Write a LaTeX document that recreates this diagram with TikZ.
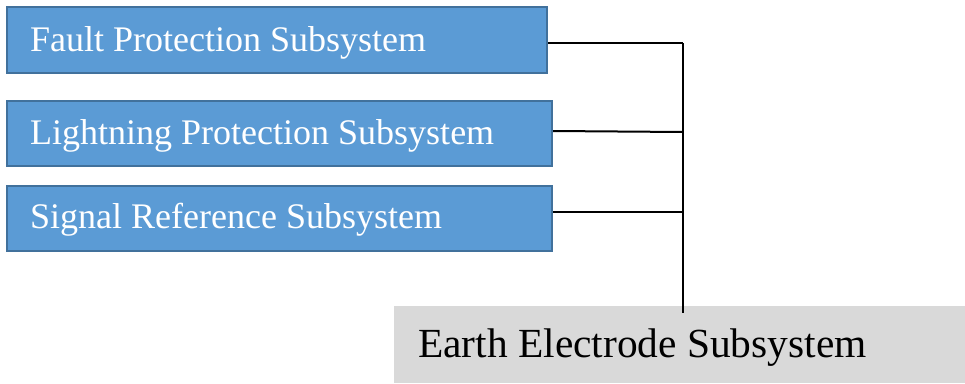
\documentclass[tikz,border=0pt]{standalone}
\usepackage{fontspec}
\setmainfont{Liberation Serif}
\definecolor{boxblue}{HTML}{5B9BD5}
\definecolor{boxedge}{HTML}{41719C}
\definecolor{earthgrey}{HTML}{D9D9D9}
\begin{document}
\begin{tikzpicture}[x=1pt,y=-1pt,
  bluebox/.style={draw=boxedge, line width=2pt, fill=boxblue, rectangle, inner sep=0pt},
  greybox/.style={fill=earthgrey, draw=none, rectangle, inner sep=0pt},
  bluetext/.style={anchor=base west, inner sep=0pt, text=white, font=\fontsize{36}{40}\selectfont},
  earthtext/.style={anchor=base west, inner sep=0pt, text=black, font=\fontsize{41.4}{46}\selectfont},
  wire/.style={draw=black, line width=2pt}]
\useasboundingbox (0,0) rectangle (965,383);
\fill[white] (0,0) rectangle (965,383);
% boxes
\node[bluebox, minimum width=540pt, minimum height=66pt] (b1) at (277,40) {};
\node[bluebox, minimum width=545pt, minimum height=65pt] (b2) at (279.5,133.5) {};
\node[bluebox, minimum width=545pt, minimum height=65pt] (b3) at (279.5,218.5) {};
\node[greybox, minimum width=571pt, minimum height=77pt] (e) at (679.5,344.5) {};
% texts
\node[bluetext] (t1) at (30,51) {Fault Protection Subsystem};
\node[bluetext] (t2) at (30,144) {Lightning Protection Subsystem};
\node[bluetext] (t3) at (30,228) {Signal Reference Subsystem};
\node[earthtext] (te) at (418,357) {Earth Electrode Subsystem};
% connectors
\coordinate (j1) at (683,43);
\coordinate (j2) at (683,132);
\coordinate (j3) at (683,212);
\coordinate (jb) at (683,313);
\draw[wire] ([yshift=-3pt]b1.east) -- (j1);
\draw[wire] ([yshift=2.5pt]b2.east) -- (j2);
\draw[wire] ([yshift=6.5pt]b3.east) -- (j3);
\draw[wire] (j1) -- (jb);
\end{tikzpicture}
\end{document}
